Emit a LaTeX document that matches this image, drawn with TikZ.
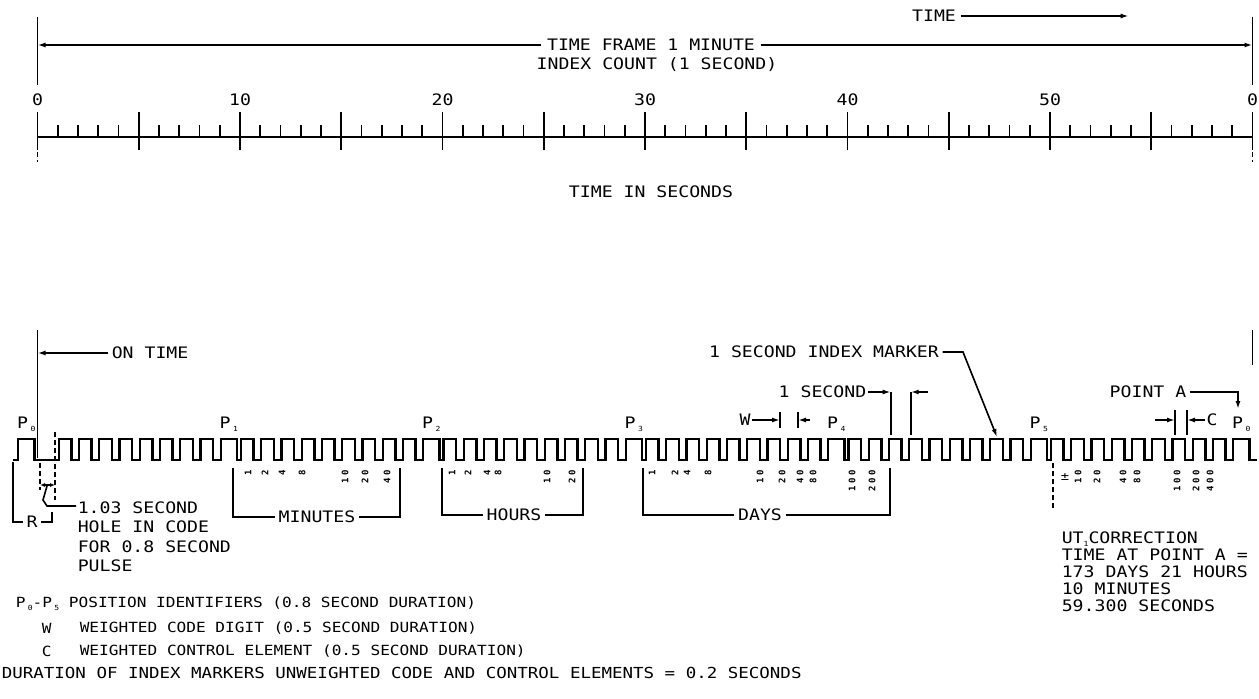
\documentclass[tikz,border=0pt]{standalone}
\usepackage{fontspec}
\usetikzlibrary{arrows.meta,calc}
\newfontfamily\lettering[FakeStretch=1.15]{DejaVu Sans Mono}
\newfontfamily\digitfam[LetterSpace=30]{DejaVu Sans Mono Bold}
\newcommand\lbl{\lettering\fontsize{15.8}{19.3}\selectfont}
\newcommand\legfont{\lettering\fontsize{14}{16}\selectfont}
\newcommand\digfont{\digitfam\fontsize{9}{9}\selectfont}
\newcommand\lowsub[1]{\raisebox{-3pt}{\fontsize{7}{7}\selectfont #1}}
\newcommand\secx[1]{37.5+20.25*(#1)}

\begin{document}
\begin{tikzpicture}[x=1pt, y=-1pt, line width=1.6pt, >={Latex[length=8pt,width=5pt]},
  every node/.style={font=\lbl, inner sep=1pt},
  wave/.style={line width=2.4pt, line join=miter},
  digit/.style={font=\digfont, rotate=90, anchor=east, inner sep=0pt},
  guide/.style={dash pattern=on 5pt off 3pt},
  leg/.style={font=\legfont, anchor=west}]
\useasboundingbox (0,0) rectangle (1259,699);

% time frame
\coordinate (z0) at (37.5,17);
\coordinate (z60) at (1252.5,17);
\draw (z0) -- ++(0,68);
\draw (z60) -- ++(0,68);
\node[inner sep=4pt] (time) at (934,16) {TIME};
\draw[->] (time.east) -- ++(168,0);
\node[inner sep=5pt] (frame) at (651,45) {TIME FRAME 1 MINUTE};
\draw[->] (frame.west) -- (frame.west -| z0);
\draw[->] (frame.east) -- (frame.east -| z60);
\node (count) at (657,65) {INDEX COUNT (1 SECOND)};

% seconds scale
\draw ({\secx{0}},137) -- ({\secx{60}},137);
\foreach \s in {0,5,...,60}
  \draw ({\secx{\s}},112) -- ({\secx{\s}},150);
\foreach \s in {1,...,59}
  \draw ({\secx{\s}},125) -- ({\secx{\s}},137);
\foreach \s/\t in {0/0,10/10,20/20,30/30,40/40,50/50,60/0}
  \node (n\s) at ({\secx{\s}},100) {\t};
\draw[guide] (37.5,152) -- (37.5,162);
\draw[guide] (1252.5,152) -- (1252.5,162);
\node (insec) at (651,192) {TIME IN SECONDS};

% pulse train
\draw[wave] (13,460)
  \foreach \k in {-1,1,2,...,59}{
    -- ({\secx{\k+0.05}},460) |- ({\secx{\k+0.67+0.18*(mod(\k+1,10)==0)}},439) -- ++(0,21)
  } -- (1257,460);
\foreach \k/\n in {-1/0,9/1,19/2,29/3,39/4,49/5,59/0}
  \node[anchor=base west, inner sep=0pt] (P\n) at ({\secx{\k}-1},428) {P\,\lowsub{\n}};

% on time
\draw (37.5,330) -- (37.5,458);
\draw (1252.5,330) -- (1252.5,365);
\node[anchor=west, inner sep=3pt] (ontime) at (108,353) {ON TIME};
\draw[->] (ontime.west) -- (ontime.west -| z0);

% index marker
\node[inner sep=3pt] (imark) at (824,352) {1 SECOND INDEX MARKER};
\coordinate (imtip) at (997,437);
\draw[->] (imark.east) -- (963,352) -- (imtip);

% one second
\coordinate (sa) at (890.7,392);
\coordinate (sb) at (910.7,392);
\node[anchor=east] (onesec) at (868,392) {1 SECOND};
\draw (sa) -- ++(0,43);
\draw (sb) -- ++(0,43);
\draw[->] (onesec.east) -- (sa);
\draw[<-] (sb) -- ++(17,0);

% weighted digit
\node (wk) at (745,420) {W};
\coordinate (wa) at (780,420);
\coordinate (wb) at (798,420);
\draw ($(wa)+(0,-8)$) -- ($(wa)+(0,8)$);
\draw ($(wb)+(0,-8)$) -- ($(wb)+(0,8)$);
\draw[->] (wk.east) -- (wa);
\draw[<-] (wb) -- ++(12,0);

% control element
\node (ck) at (1212,420) {C};
\coordinate (ca) at (1175,420);
\coordinate (cb) at (1187,420);
\draw ($(ca)+(0,-10)$) -- ($(ca)+(0,15)$);
\draw ($(cb)+(0,-10)$) -- ($(cb)+(0,15)$);
\draw[<-] (ca) -- ++(-20,0);
\draw[<-] (cb) -- (ck.west);

% point A
\node[inner sep=3pt] (pta) at (1148,392) {POINT A};
\coordinate (ptatip) at (1238,409);
\draw[->] (pta.east) -| (ptatip);

% hole in code
\node[inner sep=3pt] (rnode) at (32,522) {R};
\draw (rnode.west) -| (13,462);
\draw (rnode.east) -| (52,512);
\draw[guide] (40,463) -- (40,490);
\draw[guide] (55,432) -- (55,500);
\draw[<->, >={Latex[length=5pt,width=4pt]}] (40,485) -- (55,485);
\node[anchor=north west, align=left] (hole) at (76,500)
  {1.03 SECOND\\HOLE IN CODE\\FOR 0.8 SECOND\\PULSE};
\draw (47,486) -- (43,500) -- (47,506) -- ($(hole.north west)+(0,6)$);

% brackets
\node[inner sep=3pt] (minlbl) at (317,517) {MINUTES};
\draw (minlbl.west) -| (233,468);
\draw (minlbl.east) -| (400,468);
\node[inner sep=3pt] (hrlbl) at (514,515) {HOURS};
\draw (hrlbl.west) -| (442,468);
\draw (hrlbl.east) -| (583,468);
\node[inner sep=3pt] (daylbl) at (760,515) {DAYS};
\draw (daylbl.west) -| (643,468);
\draw (daylbl.east) -| (890,468);
\draw[guide] (1053,463) -- (1053,510);

% code weights
\foreach \x/\d in {248/1,265/2,282/4,302/8,345/10,365/20,387/40,
                   452/1,468/2,487/4,498/8,547/10,572/20,
                   652/1,675/2,687/4,708/8,760/10,782/20,800/40,813/80,852/100,872/200,
                   1078/10,1097/20,1123/40,1137/80,1177/100,1196/200,1210/400}
  \node[digit] at (\x,469) {\d};
\node[font=\lettering\fontsize{12}{12}\selectfont, inner sep=0pt] (pm) at (1065,477) {±};

% UT1 correction
\node[anchor=north west, align=left, font=\lettering\fontsize{15.8}{17}\selectfont] (utc) at (1060,530)
  {UT\lowsub{1}CORRECTION\\TIME AT POINT A =\\173 DAYS 21 HOURS\\10 MINUTES\\59.300 SECONDS};

% legend
\node[leg] (legP) at (14,604) {P\,\lowsub{0}-P\,\lowsub{5} POSITION IDENTIFIERS (0.8 SECOND DURATION)};
\node[leg] (legWk) at (40,628) {W};
\node[leg] (legW) at (78,628) {WEIGHTED CODE DIGIT (0.5 SECOND DURATION)};
\node[leg] (legCk) at (40,651) {C};
\node[leg] (legC) at (78,651) {WEIGHTED CONTROL ELEMENT (0.5 SECOND DURATION)};
\node[leg, font=\lettering\fontsize{15.2}{16}\selectfont] (legD) at (0,673) {DURATION OF INDEX MARKERS UNWEIGHTED CODE AND CONTROL ELEMENTS = 0.2 SECONDS};
\end{tikzpicture}
\end{document}
